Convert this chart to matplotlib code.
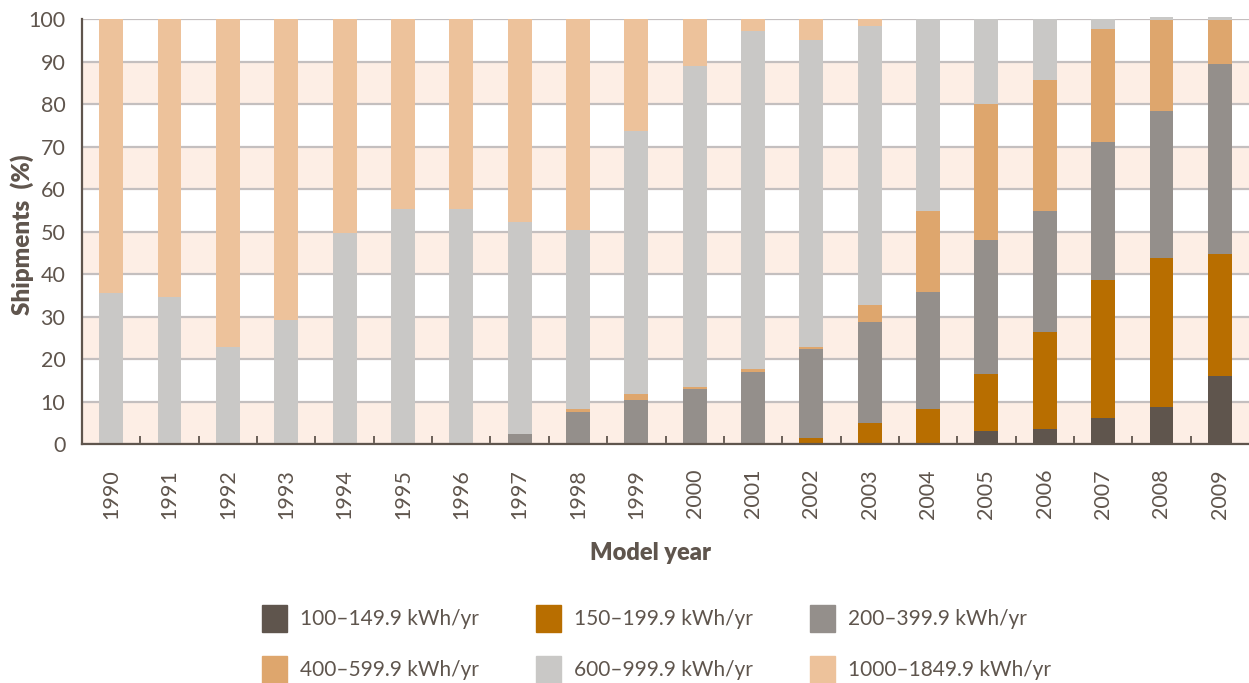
import matplotlib.pyplot as plt
from matplotlib.patches import Rectangle

plt.rcParams['font.family'] = ['Lato', 'DejaVu Sans']

years = [str(y) for y in range(1990, 2010)]
bands = ["100–149.9 kWh/yr", "150–199.9 kWh/yr", "200–399.9 kWh/yr",
         "400–599.9 kWh/yr", "600–999.9 kWh/yr", "1000–1849.9 kWh/yr"]
colors = ["#5f554d", "#b86e00", "#948f8b", "#dea66d", "#c9c8c6", "#edc29b"]

# shares (%) per model year, bottom to top
s100 = [0, 0, 0, 0, 0, 0, 0, 0, 0, 0, 0, 0, 0, 0, 0, 3.1, 3.5, 6.1, 8.7, 16.0]
s150 = [0, 0, 0, 0, 0, 0, 0, 0, 0, 0, 0, 0, 1.4, 4.9, 8.2, 13.4, 22.9, 32.5, 35.1, 28.7]
s200 = [0, 0, 0, 0, 0, 0, 0, 2.4, 7.5, 10.4, 13.0, 17.0, 21.0, 23.8, 27.6, 31.5, 28.5, 32.5, 34.6, 44.8]
s400 = [0, 0, 0, 0, 0, 0, 0, 0, 0.7, 1.4, 0.5, 0.7, 0.4, 4.0, 19.1, 32.0, 30.8, 26.6, 21.4, 10.3]
s600 = [35.5, 34.5, 22.8, 29.2, 49.6, 55.3, 55.3, 49.9, 42.3, 61.9, 75.5, 79.5, 72.3, 65.8, 45.1, 20.0, 14.3, 2.3, 0.7, 0.7]
s1000 = [64.5, 65.5, 77.2, 70.8, 50.4, 44.7, 44.7, 47.7, 49.5, 26.3, 11.0, 2.8, 4.9, 1.5, 0, 0, 0, 0, 0, 0]
series = [s100, s150, s200, s400, s600, s1000]

txt = "#5f554d"
fig = plt.figure(figsize=(12.49, 6.83), dpi=100)
ax = fig.add_axes([82 / 1249, 1 - 444 / 683, 1 - 82 / 1249, (444 - 19.3) / 683])

for lo in range(0, 100, 20):
    ax.axhspan(lo, lo + 10, color="#fdeee5", zorder=0, lw=0)
ax.set_axisbelow(True)
ax.yaxis.grid(True, color="#c4bfbf", lw=1.6)

x = list(range(len(years)))
bottom = [0] * len(years)
for vals, col, lab in zip(series, colors, bands):
    ax.bar(x, vals, 0.41, bottom=bottom, color=col, label=lab, zorder=3, clip_on=False)
    bottom = [b + v for b, v in zip(bottom, vals)]

ax.set_xlim(-0.5, len(years) - 0.5)
ax.set_ylim(0, 100)
ax.set_yticks(range(0, 101, 10))
ax.set_xticks(x)
ax.set_xticklabels(years, rotation=90)
ax.set_xticks([i + 0.5 for i in range(len(years) - 1)], minor=True)
ax.tick_params(axis="x", which="major", length=0, pad=18, labelsize=15.5, labelcolor=txt)
ax.tick_params(axis="x", which="minor", direction="in", length=6, width=1.3, color=txt)
ax.tick_params(axis="y", length=0, pad=12, labelsize=15.5, labelcolor=txt)

for side in ["top", "right"]:
    ax.spines[side].set_visible(False)
for side in ["left", "bottom"]:
    ax.spines[side].set_color(txt)
    ax.spines[side].set_linewidth(1.6)
    ax.spines[side].set_zorder(5)

fig.text(22 / 1249, 1 - 235 / 683, "Shipments  (%)", rotation=90, ha="center", va="center",
         fontsize=17.5, fontweight="heavy", color=txt)
fig.text(650 / 1249, 1 - 553 / 683, "Model year", ha="center", va="center",
         fontsize=17, fontweight="heavy", color=txt)

# legend, 3 columns x 2 rows
for i, (col, lab) in enumerate(zip(colors, bands)):
    c, r = i % 3, i // 3
    x0 = 262 + c * 274
    y0 = 619 + r * 51
    fig.patches.append(Rectangle((x0 / 1249, 1 - (y0 + 13) / 683), 25 / 1249, 27 / 683,
                                 transform=fig.transFigure, color=col))
    fig.text((x0 + 38) / 1249, 1 - y0 / 683, lab, ha="left", va="center",
             fontsize=15, color=txt)

fig.savefig("out.png", dpi=100)
